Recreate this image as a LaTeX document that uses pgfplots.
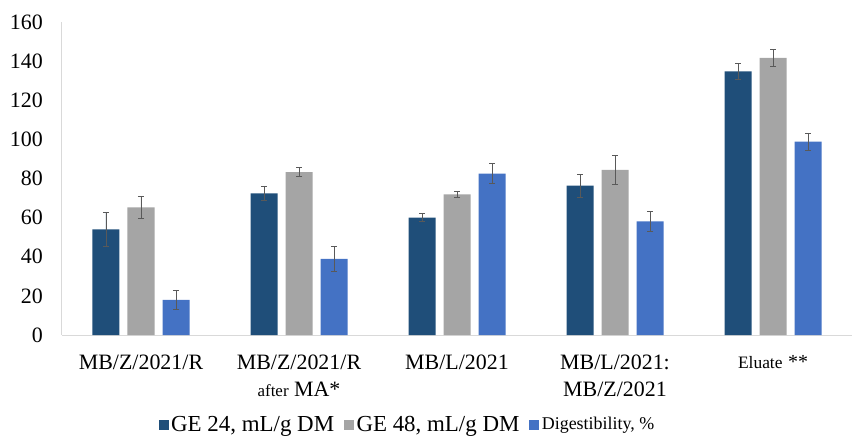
\documentclass[border=0pt]{standalone}
\usepackage{pgfplots}
\usepackage{pgfplotstable}
\pgfplotsset{compat=1.18}
\usepackage{fontspec}
\setmainfont{Liberation Serif}

\definecolor{ge24}{HTML}{1F4E79}
\definecolor{ge48}{HTML}{A5A5A5}
\definecolor{digest}{HTML}{4472C4}
\definecolor{axisgray}{HTML}{D9D9D9}
\definecolor{errgray}{HTML}{595959}

% x = sample, y = mean, e = error half-width
\pgfplotstableread{
x y e
0 54.0 8.5
1 72.4 3.8
2 60.0 2.0
3 76.3 5.8
4 134.8 4.1
}\geA
\pgfplotstableread{
x y e
0 65.3 5.7
1 83.3 2.4
2 71.9 1.6
3 84.4 7.5
4 141.6 4.5
}\geB
\pgfplotstableread{
x y e
0 18.0 5.0
1 38.9 6.2
2 82.5 5.1
3 58.1 5.1
4 98.8 4.5
}\digest

\pgfplotsset{
  errstyle/.style={
    error bars/.cd, y dir=both, y explicit,
    error bar style={line width=0.8bp, draw=errgray},
    error mark options={rotate=90, line width=0.8bp, mark size=3bp, draw=errgray}},
}

\begin{document}
\begin{tikzpicture}
\begin{axis}[
  scale only axis,
  width=790bp, height=313bp,
  xmin=-0.5, xmax=4.5, ymin=0, ymax=160,
  ybar, bar width=27bp,
  axis x line*=bottom, axis y line*=left,
  axis line style={-, draw=axisgray, line width=1bp},
  major tick length=0pt,
  ytick={0,20,...,160},
  xtick={0,1,2,3,4},
  xticklabels={
    MB/Z/2021/R,
    {MB/Z/2021/R\\{\fontsize{17}{27}\selectfont after} MA*},
    MB/L/2021,
    {MB/L/2021:\\MB/Z/2021},
    {{\fontsize{17.5}{27}\selectfont Eluate} {\fontsize{20}{27}\selectfont **}}
  },
  /pgf/number format/assume math mode=true,
  yticklabel style={font=\fontsize{22}{26}\selectfont, anchor=east, inner sep=0pt, xshift=-19bp},
  xticklabel style={font=\fontsize{22}{27}\selectfont, align=center, anchor=north, inner sep=0pt, yshift=-20bp},
  legend style={at={(0.438,-0.285)}, anchor=center, draw=none, fill=none,
    legend columns=3, font=\fontsize{23}{26}\selectfont,
    /tikz/every even column/.append style={column sep=7bp},
    nodes={inner ysep=1bp, inner xsep=3bp}},
  legend cell align=left,
]
\addplot[fill=ge24, draw=none, forget plot, bar shift=-35bp, errstyle]
  table[x=x, y=y, y error=e] {\geA};
\addplot[fill=ge48, draw=none, forget plot, bar shift=0bp, errstyle]
  table[x=x, y=y, y error=e] {\geB};
\addplot[fill=digest, draw=none, forget plot, bar shift=35bp, errstyle]
  table[x=x, y=y, y error=e] {\digest};

\addlegendimage{legend image code/.code={\fill[ge24] (0bp,-4.5bp) rectangle (9bp,4.5bp);}}
\addlegendentry{GE 24, mL/g DM}
\addlegendimage{legend image code/.code={\fill[ge48] (0bp,-4.5bp) rectangle (9bp,4.5bp);}}
\addlegendentry{GE 48, mL/g DM}
\addlegendimage{legend image code/.code={\fill[digest] (0bp,-4.5bp) rectangle (9bp,4.5bp);}}
\addlegendentry{{\fontsize{18}{20}\selectfont Digestibility, \%}}
\end{axis}
\pgfresetboundingbox
\path[use as bounding box] (-62bp,-103bp) rectangle (790bp,335bp);
\end{tikzpicture}
\end{document}
